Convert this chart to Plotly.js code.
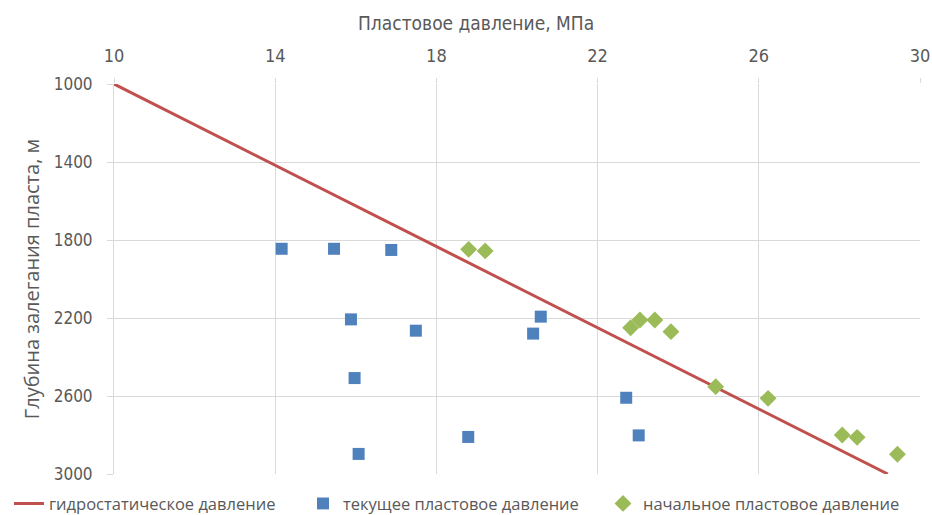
<!DOCTYPE html>
<html>
<head>
<meta charset="utf-8">
<script src="https://cdn.plot.ly/plotly-3.0.1.min.js"></script>
<style>html,body{margin:0;padding:0;background:#fff}#chart{width:932px;height:515px}</style>
</head>
<body>
<div id="chart"></div>
<script>
// hydrostatic line
const hydroP = [10, 29.2];
const hydroH = [1000, 3000];
// current reservoir pressure
const curP = [14.16, 15.46, 16.88, 15.88, 17.49, 20.59, 20.40, 15.97, 18.79, 16.07, 22.71, 23.02];
const curH = [1845, 1845, 1851, 2207, 2265, 2193, 2280, 2508, 2810, 2897, 2609, 2802];
// initial reservoir pressure
const iniP = [18.80, 19.21, 22.82, 23.05, 23.42, 23.82, 24.93, 26.23, 28.07, 28.44, 29.44];
const iniH = [1848, 1856, 2250, 2210, 2210, 2270, 2552, 2612, 2800, 2812, 2899];
const xTicks = [10, 14, 18, 22, 26, 30];
const yTicks = [1000, 1400, 1800, 2200, 2600, 3000];
const xTitle = 'Пластовое давление, МПа';
const yTitle = 'Глубина залегания пласта, м';

const condensed = '"Liberation Sans Narrow", "DejaVu Sans Condensed", "Open Sans", sans-serif';
const grey = '#595959';

const traces = [
  {x: hydroP, y: hydroH, mode: 'lines', name: 'гидростатическое давление', legend: 'legend',
   line: {color: '#C0504D', width: 3}},
  {x: curP, y: curH, mode: 'markers', name: 'текущее пластовое давление', legend: 'legend2',
   marker: {symbol: 'square', color: '#4F81BD', size: 12}},
  {x: iniP, y: iniH, mode: 'markers', name: 'начальное пластовое давление', legend: 'legend3',
   marker: {symbol: 'diamond', color: '#9BBB59', size: 13}}
];

function legendAt(px) {
  return {
    orientation: 'h', xref: 'container', yref: 'container', x: px / 932, y: 0.022,
    xanchor: 'left', yanchor: 'middle', bgcolor: 'rgba(0,0,0,0)',
    font: {family: '"Open Sans", sans-serif', size: 16.5, color: grey}
  };
}

const layout = {
  width: 932, height: 515,
  margin: {l: 114, r: 12, t: 84, b: 41},
  paper_bgcolor: '#fff', plot_bgcolor: '#fff',
  showlegend: true,
  xaxis: {
    side: 'top', range: [10, 30], tickvals: xTicks, ticktext: xTicks.map(String),
    showgrid: true, gridcolor: '#d9d9d9', gridwidth: 1,
    zeroline: false, showline: false,
    ticks: 'outside', ticklen: 5, tickcolor: '#d9d9d9',
    ticklabelstandoff: 9,
    tickfont: {family: condensed, size: 18, color: grey}
  },
  yaxis: {
    autorange: false, range: [3000, 1000], tickvals: yTicks, ticktext: yTicks.map(String),
    showgrid: true, gridcolor: '#d9d9d9', gridwidth: 1,
    zeroline: false, showline: true, linecolor: '#d9d9d9', linewidth: 1,
    ticks: 'outside', ticklen: 6, tickcolor: '#d9d9d9',
    ticklabelstandoff: 11,
    tickfont: {family: condensed, size: 17, color: grey},
    title: {text: yTitle, font: {family: '"Open Sans", sans-serif', size: 20, color: grey}, standoff: 8}
  },
  annotations: [{
    text: xTitle, xref: 'paper', yref: 'paper', x: 0.449, y: 1.156,
    xanchor: 'center', yanchor: 'middle', showarrow: false,
    font: {family: condensed, size: 19, color: grey}
  }],
  legend: legendAt(9),
  legend2: legendAt(303),
  legend3: legendAt(603)
};

Plotly.newPlot('chart', traces, layout, {displayModeBar: false, staticPlot: true});
</script>
</body>
</html>
